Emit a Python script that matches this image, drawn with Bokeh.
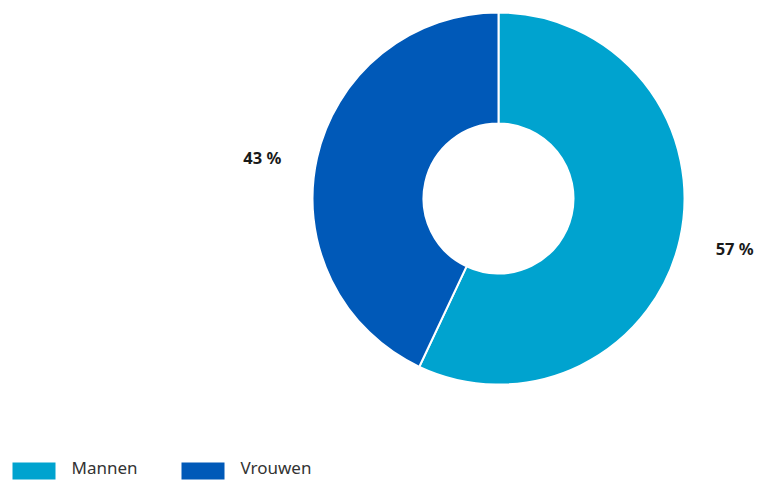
import math
from bokeh.plotting import figure
from bokeh.models import Range1d, ColumnDataSource
from bokeh.core.properties import value
from bokeh.embed import file_html
from bokeh.resources import INLINE

categories = ["Mannen", "Vrouwen"]
shares = [57, 43]
colors = ["#00a3cf", "#0059b8"]
labels = ["57 %", "43 %"]

W, H = 757, 480
cx, cy = 498, H - 198
r_out, r_in = 186, 75

p = figure(width=W, height=H, output_backend="svg", toolbar_location=None,
           x_range=Range1d(0, W), y_range=Range1d(0, H), min_border=0)
p.axis.visible = False
p.grid.visible = False
p.outline_line_color = None
p.background_fill_color = "white"

total = sum(shares)
starts, ends, lx, ly = [], [], [], []
cum = 0.0
nudges = [3, -12]
for i, s in enumerate(shares):
    a0 = cum / total * 2 * math.pi
    a1 = (cum + s) / total * 2 * math.pi
    # clockwise from north
    starts.append(math.pi / 2 - a1)
    ends.append(math.pi / 2 - a0)
    mid = (a0 + a1) / 2
    lx.append(cx + 242 * math.sin(mid))
    ly.append(cy + 242 * math.cos(mid) + nudges[i])
    cum += s

src = ColumnDataSource(dict(start=starts, end=ends, color=colors, cat=categories,
                            lx=lx, ly=ly, label=labels))
p.annular_wedge(x=cx, y=cy, inner_radius=r_in, outer_radius=r_out,
                start_angle="start", end_angle="end", fill_color="color",
                line_color="white", line_width=2, source=src)
p.text(x="lx", y="ly", text="label", source=src, text_align="center",
       text_baseline="middle", text_font=value("Noto Sans"),
       text_font_size="16.5px", text_font_style="bold", text_color="#1a1a1a")

# legend
leg_x = [33.5, 202.5]
leg_tx = [71, 240]
p.rect(x=leg_x, y=[H - 470.5] * 2, width=43, height=17, fill_color=colors,
       line_color=None)
p.text(x=leg_tx, y=[H - 467] * 2, text=categories, text_baseline="middle",
       text_font=value("Noto Sans"), text_font_size="17px", text_color="#333333")

open("out.html", "w").write(file_html(p, INLINE))
